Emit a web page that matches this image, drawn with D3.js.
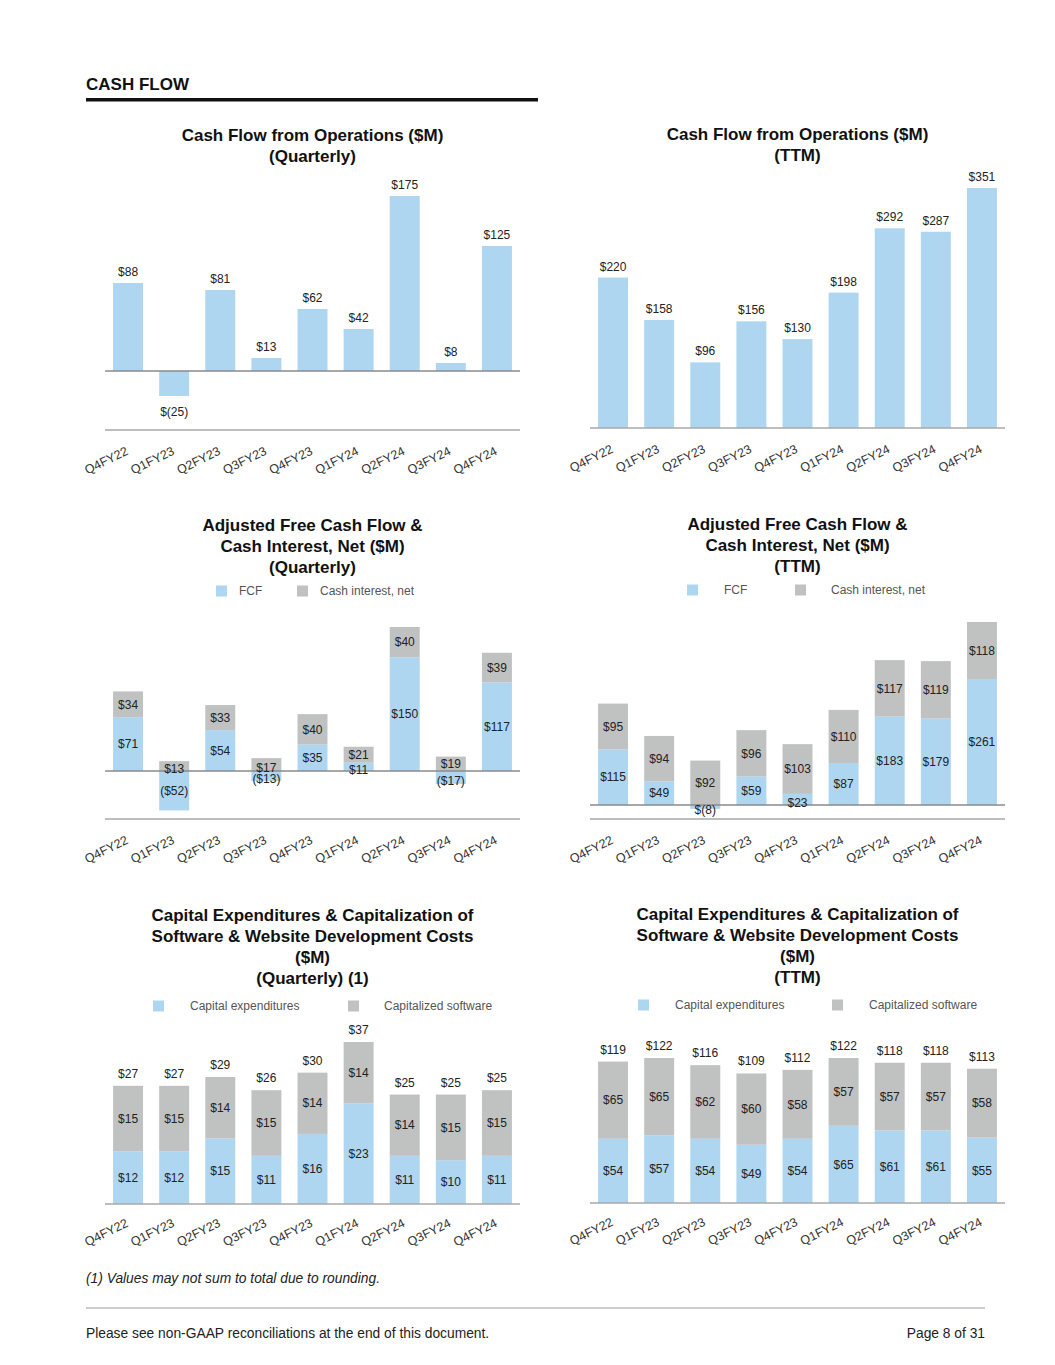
<!DOCTYPE html>
<html>
<head>
<meta charset="utf-8">
<script src="https://cdn.jsdelivr.net/npm/d3@7"></script>
<style>
  body { margin: 0; background: #fff; }
  svg { display: block; font-family: "Liberation Sans", Arial, sans-serif; }
</style>
</head>
<body>
<div id="page"></div>
<script>
// Data
const quarters = ["Q4FY22", "Q1FY23", "Q2FY23", "Q3FY23", "Q4FY23", "Q1FY24", "Q2FY24", "Q3FY24", "Q4FY24"];

const cfoQuarterly = [88, -25, 81, 13, 62, 42, 175, 8, 125];
const cfoTTM = [220, 158, 96, 156, 130, 198, 292, 287, 351];

const fcfQuarterly = [71, -52, 54, -13, 35, 11, 150, -17, 117];
const cashInterestQuarterly = [34, 13, 33, 17, 40, 21, 40, 19, 39];
const fcfTTM = [115, 49, -8, 59, 23, 87, 183, 179, 261];
const cashInterestTTM = [95, 94, 92, 96, 103, 110, 117, 119, 118];

const capexQuarterly = [12, 12, 15, 11, 16, 23, 11, 10, 11];
const capSoftwareQuarterly = [15, 15, 14, 15, 14, 14, 14, 15, 15];
const capTotalQuarterly = [27, 27, 29, 26, 30, 37, 25, 25, 25];
const capexTTM = [54, 57, 54, 49, 54, 65, 61, 61, 55];
const capSoftwareTTM = [65, 65, 62, 60, 58, 57, 57, 57, 58];
const capTotalTTM = [119, 122, 116, 109, 112, 122, 118, 118, 113];

const legendFCF = ["FCF", "Cash interest, net"];
const legendCap = ["Capital expenditures", "Capitalized software"];

// Colours
const blue = "#aed6f1";
const grey = "#c0c1c1";
const textColour = "#222";

const width = 1055, height = 1365;

const svg = d3.select("#page")
  .append("svg")
  .attr("width", width)
  .attr("height", height);

// Formatters
const fmtInner = v => v < 0 ? `$(${-v})` : `$${v}`;
const fmtOuter = v => v < 0 ? `($${-v})` : `$${v}`;

// Page header
svg.append("text")
  .attr("x", 86).attr("y", 90)
  .attr("font-size", 17).attr("font-weight", "bold")
  .attr("fill", "#111")
  .text("CASH FLOW");

svg.append("rect")
  .attr("x", 86).attr("y", 98)
  .attr("width", 452).attr("height", 3.5)
  .attr("fill", "#111");

// Common bits
function drawFrame(g, cfg) {
  const x = d3.scaleBand()
    .domain(quarters)
    .range(cfg.xRange)
    .paddingInner(0.35)
    .paddingOuter(0.175);

  const mid = (cfg.xRange[0] + cfg.xRange[1]) / 2;

  // Title
  g.append("g")
    .selectAll("text")
    .data(cfg.title)
    .join("text")
      .attr("x", mid)
      .attr("y", (d, i) => cfg.titleY + i * 21)
      .attr("text-anchor", "middle")
      .attr("font-size", 17)
      .attr("font-weight", "bold")
      .attr("fill", "#111")
      .text(d => d);

  // Legend
  if (cfg.legend) {
    const lg = g.append("g").attr("font-size", 12).attr("fill", "#555");
    cfg.legend.labels.forEach((lab, i) => {
      lg.append("rect")
        .attr("x", cfg.legend.box[i]).attr("y", cfg.legend.y - 5.5)
        .attr("width", 11).attr("height", 11)
        .attr("fill", i === 0 ? blue : grey);
      lg.append("text")
        .attr("x", cfg.legend.text[i]).attr("y", cfg.legend.y + 4)
        .text(lab);
    });
  }

  // Category labels
  g.append("g")
    .selectAll("text")
    .data(quarters)
    .join("text")
      .attr("text-anchor", "end")
      .attr("font-size", 12.5)
      .attr("fill", "#333")
      .attr("transform", d => `translate(${x(d) + x.bandwidth() / 2 + 1},${cfg.labelY}) rotate(-26)`)
      .text(d => d);

  return x;
}

function drawLines(g, cfg) {
  if (cfg.bottomY !== cfg.zeroY) {
    g.append("line")
      .attr("x1", cfg.xRange[0]).attr("x2", cfg.xRange[1])
      .attr("y1", cfg.bottomY).attr("y2", cfg.bottomY)
      .attr("stroke", "#a8a8a8").attr("stroke-width", 1.5);
  }
  g.append("line")
    .attr("x1", cfg.xRange[0]).attr("x2", cfg.xRange[1])
    .attr("y1", cfg.zeroY).attr("y2", cfg.zeroY)
    .attr("stroke", cfg.bottomY !== cfg.zeroY ? "#8a8a8a" : "#a8a8a8")
    .attr("stroke-width", 1.5);
}

// Simple bar chart
function simpleBars(cfg) {
  const g = svg.append("g");
  const x = drawFrame(g, cfg);

  const y = d3.scaleLinear()
    .domain([0, d3.max(cfg.values)])
    .range([cfg.zeroY, cfg.topY]);

  const data = quarters.map((q, i) => ({ q, v: cfg.values[i] }));

  g.append("g")
    .selectAll("rect")
    .data(data)
    .join("rect")
      .attr("x", d => x(d.q))
      .attr("width", x.bandwidth())
      .attr("y", d => Math.min(y(d.v), y(0)))
      .attr("height", d => Math.abs(y(d.v) - y(0)))
      .attr("fill", blue);

  drawLines(g, cfg);

  g.append("g")
    .selectAll("text")
    .data(data)
    .join("text")
      .attr("x", d => x(d.q) + x.bandwidth() / 2)
      .attr("y", d => d.v < 0 ? y(d.v) + 20 : y(d.v) - 7)
      .attr("text-anchor", "middle")
      .attr("font-size", 12)
      .attr("fill", textColour)
      .text(d => cfg.format(d.v));
}

// Stacked bar chart
function stackedBars(cfg) {
  const g = svg.append("g");
  const x = drawFrame(g, cfg);

  const data = quarters.map((q, i) => {
    const a = cfg.first[i], b = cfg.second[i];
    const a0 = 0, a1 = a;
    const b0 = Math.max(a, 0), b1 = b0 + b;
    return { q, a, b, a0, a1, b0, b1, total: cfg.totals ? cfg.totals[i] : null };
  });

  const y = d3.scaleLinear()
    .domain([0, d3.max(data, d => d.b1)])
    .range([cfg.zeroY, cfg.topY]);

  const segs = [];
  data.forEach(d => {
    segs.push({ q: d.q, v: d.a, y0: d.a0, y1: d.a1, fill: blue });
    segs.push({ q: d.q, v: d.b, y0: d.b0, y1: d.b1, fill: grey });
  });

  g.append("g")
    .selectAll("rect")
    .data(segs)
    .join("rect")
      .attr("x", d => x(d.q))
      .attr("width", x.bandwidth())
      .attr("y", d => Math.min(y(d.y0), y(d.y1)))
      .attr("height", d => Math.abs(y(d.y1) - y(d.y0)))
      .attr("fill", d => d.fill);

  drawLines(g, cfg);

  g.append("g")
    .selectAll("text")
    .data(segs)
    .join("text")
      .attr("x", d => x(d.q) + x.bandwidth() / 2)
      .attr("y", d => {
        let c = (y(d.y0) + y(d.y1)) / 2;
        // thin segments: nudge label down a touch
        if (Math.abs(y(d.y1) - y(d.y0)) < 14) c += 3;
        return c;
      })
      .attr("dy", "0.35em")
      .attr("text-anchor", "middle")
      .attr("font-size", 12)
      .attr("fill", textColour)
      .text(d => cfg.format(d.v));

  if (cfg.totals) {
    g.append("g")
      .selectAll("text")
      .data(data)
      .join("text")
        .attr("x", d => x(d.q) + x.bandwidth() / 2)
        .attr("y", d => y(d.b1) - 8)
        .attr("text-anchor", "middle")
        .attr("font-size", 12)
        .attr("fill", textColour)
        .text(d => cfg.format(d.total));
  }
}

const leftRange = [105, 520];
const rightRange = [590, 1005];

simpleBars({
  title: ["Cash Flow from Operations ($M)", "(Quarterly)"],
  titleY: 141, xRange: leftRange,
  values: cfoQuarterly, zeroY: 371, topY: 196, bottomY: 430, labelY: 454,
  format: fmtInner
});

simpleBars({
  title: ["Cash Flow from Operations ($M)", "(TTM)"],
  titleY: 140, xRange: rightRange,
  values: cfoTTM, zeroY: 428, topY: 188, bottomY: 428, labelY: 452,
  format: fmtInner
});

stackedBars({
  title: ["Adjusted Free Cash Flow &", "Cash Interest, Net ($M)", "(Quarterly)"],
  titleY: 531, xRange: leftRange,
  legend: { labels: legendFCF, box: [216, 297], text: [239, 320], y: 591 },
  first: fcfQuarterly, second: cashInterestQuarterly,
  zeroY: 771, topY: 627, bottomY: 819, labelY: 843,
  format: fmtOuter
});

stackedBars({
  title: ["Adjusted Free Cash Flow &", "Cash Interest, Net ($M)", "(TTM)"],
  titleY: 530, xRange: rightRange,
  legend: { labels: legendFCF, box: [687, 795], text: [724, 831], y: 590 },
  first: fcfTTM, second: cashInterestTTM,
  zeroY: 805, topY: 622, bottomY: 819, labelY: 843,
  format: fmtInner
});

stackedBars({
  title: ["Capital Expenditures & Capitalization of", "Software & Website Development Costs", "($M)", "(Quarterly) (1)"],
  titleY: 921, xRange: leftRange,
  legend: { labels: legendCap, box: [153, 348], text: [190, 384], y: 1006 },
  first: capexQuarterly, second: capSoftwareQuarterly, totals: capTotalQuarterly,
  zeroY: 1204, topY: 1042, bottomY: 1204, labelY: 1226,
  format: fmtInner
});

stackedBars({
  title: ["Capital Expenditures & Capitalization of", "Software & Website Development Costs", "($M)", "(TTM)"],
  titleY: 920, xRange: rightRange,
  legend: { labels: legendCap, box: [638, 832], text: [675, 869], y: 1005 },
  first: capexTTM, second: capSoftwareTTM, totals: capTotalTTM,
  zeroY: 1203, topY: 1058, bottomY: 1203, labelY: 1225,
  format: fmtInner
});

// Footnote & footer
svg.append("text")
  .attr("x", 86).attr("y", 1283)
  .attr("font-size", 13.8).attr("font-style", "italic")
  .attr("fill", "#222")
  .text("(1) Values may not sum to total due to rounding.");

svg.append("line")
  .attr("x1", 86).attr("x2", 985)
  .attr("y1", 1308).attr("y2", 1308)
  .attr("stroke", "#9a9a9a").attr("stroke-width", 1);

svg.append("text")
  .attr("x", 86).attr("y", 1338)
  .attr("font-size", 13.8)
  .attr("fill", "#222")
  .text("Please see non-GAAP reconciliations at the end of this document.");

svg.append("text")
  .attr("x", 985).attr("y", 1338)
  .attr("text-anchor", "end")
  .attr("font-size", 13.8)
  .attr("fill", "#222")
  .text("Page 8 of 31");
</script>
</body>
</html>
